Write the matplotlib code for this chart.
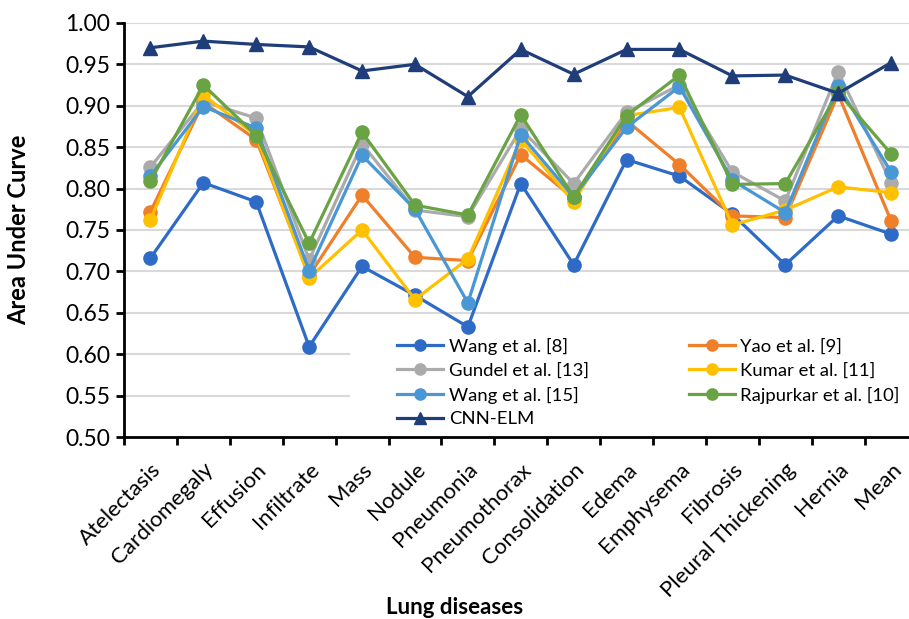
import matplotlib.pyplot as plt
import numpy as np
from matplotlib.patches import Rectangle

plt.rcParams['font.family'] = ['Lato', 'DejaVu Sans']

diseases = ['Atelectasis', 'Cardiomegaly', 'Effusion', 'Infiltrate', 'Mass', 'Nodule',
            'Pneumonia', 'Pneumothorax', 'Consolidation', 'Edema', 'Emphysema',
            'Fibrosis', 'Pleural Thickening', 'Hernia', 'Mean']

wang8 = [0.716, 0.807, 0.784, 0.609, 0.706, 0.671, 0.633, 0.806, 0.708, 0.835,
         0.815, 0.769, 0.708, 0.767, 0.745]
yao9 = [0.772, 0.904, 0.859, 0.695, 0.792, 0.717, 0.713, 0.841, 0.788, 0.882,
        0.829, 0.767, 0.765, 0.914, 0.761]
gundel13 = [0.826, 0.905, 0.885, 0.714, 0.854, 0.774, 0.766, 0.872, 0.806, 0.892,
            0.925, 0.820, 0.785, 0.941, 0.807]
kumar11 = [0.762, 0.913, 0.864, 0.692, 0.750, 0.666, 0.715, 0.859, 0.784, 0.888,
           0.898, 0.756, 0.774, 0.802, 0.795]
wang15 = [0.815, 0.899, 0.873, 0.701, 0.840, 0.775, 0.662, 0.865, 0.790, 0.874,
          0.923, 0.810, 0.771, 0.924, 0.820]
rajpurkar10 = [0.809, 0.925, 0.864, 0.734, 0.868, 0.780, 0.768, 0.889, 0.790, 0.888,
               0.937, 0.805, 0.806, 0.916, 0.842]
cnn_elm = [0.970, 0.978, 0.974, 0.971, 0.942, 0.950, 0.911, 0.968, 0.938, 0.968,
           0.968, 0.936, 0.937, 0.915, 0.952]

series = [
    ('Wang et al. [8]', wang8, '#2E6BC6', 'o'),
    ('Yao et al. [9]', yao9, '#F07F2A', 'o'),
    ('Gundel et al. [13]', gundel13, '#ABABAB', 'o'),
    ('Kumar et al. [11]', kumar11, '#FFC000', 'o'),
    ('Wang et al. [15]', wang15, '#4A97D6', 'o'),
    ('Rajpurkar et al. [10]', rajpurkar10, '#69A343', 'o'),
    ('CNN-ELM', cnn_elm, '#1F3E79', '^'),
]

fig = plt.figure(figsize=(9.09, 6.19), dpi=100)
ax = fig.add_axes([0.1364, 0.294, 0.873, 0.669])

x = np.arange(len(diseases))
handles = {}
for name, vals, color, marker in series:
    ms = 9.5 if marker == 'o' else 10.5
    line, = ax.plot(x, vals, color=color, marker=marker, markersize=ms,
                    linewidth=2.3, label=name, zorder=3)
    handles[name] = line

ax.set_xlim(-0.5, len(diseases) - 0.5)
ax.set_ylim(0.5, 1.0)
ax.set_yticks(np.arange(0.5, 1.001, 0.05))
ax.set_yticklabels([f'{v:.2f}' for v in np.arange(0.5, 1.001, 0.05)])
ax.yaxis.grid(True, color='#D9D9D9', linewidth=1.5, zorder=0)
ax.set_axisbelow(True)

ax.set_xticks(x)
ax.set_xticklabels(diseases, rotation=45, ha='right', rotation_mode='anchor')
ax.set_xticks(np.arange(-0.5, len(diseases), 1.0), minor=True)
ax.tick_params(axis='x', which='major', length=0, pad=16, labelsize=16)
ax.tick_params(axis='x', which='minor', length=6, width=2, direction='out')
ax.tick_params(axis='y', length=6, width=2, direction='out', labelsize=16.5, pad=4)

for side in ['top', 'right']:
    ax.spines[side].set_visible(False)
for side in ['left', 'bottom']:
    ax.spines[side].set_linewidth(2)

ax.set_ylabel('Area Under Curve', fontsize=17, fontweight='bold')
ax.yaxis.set_label_coords(-0.118, 0.5)
ax.set_xlabel('Lung diseases', fontsize=16, fontweight='bold')
ax.xaxis.set_label_coords(0.417, -0.387)

# white block behind the legend hides the gridlines there
ax.add_patch(Rectangle((0.285, 0.0), 0.715, 0.255, transform=ax.transAxes,
                       facecolor='white', edgecolor='none', zorder=1))

order = ['Wang et al. [8]', 'Gundel et al. [13]', 'Wang et al. [15]', 'CNN-ELM',
         'Yao et al. [9]', 'Kumar et al. [11]', 'Rajpurkar et al. [10]']
ax.legend([handles[n] for n in order], order, ncol=2, frameon=False,
          loc='upper left', bbox_to_anchor=(0.3325, 0.262), borderpad=0,
          fontsize=13.3, handlelength=2.5, handletextpad=0.3,
          labelspacing=0.42, columnspacing=5.4, markerscale=0.85)

fig.savefig('out.png', dpi=100)
